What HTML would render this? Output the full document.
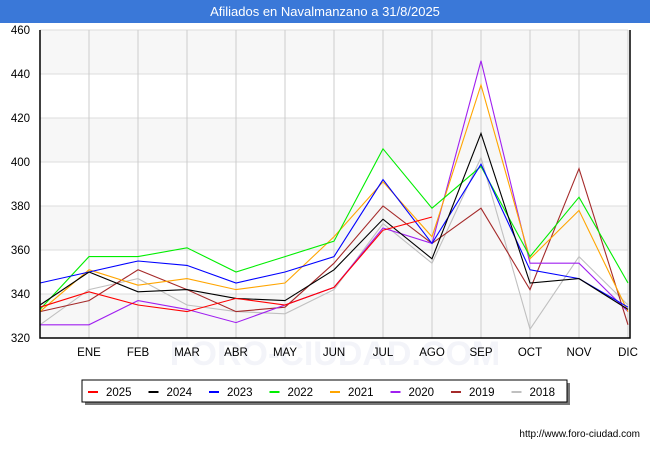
<!DOCTYPE html>
<html><head><meta charset="utf-8"><style>
body{margin:0;width:650px;height:450px;background:#fff;font-family:"Liberation Sans","DejaVu Sans",sans-serif;overflow:hidden}
</style></head><body>
<svg width="650" height="450" id="c" xmlns="http://www.w3.org/2000/svg">
<rect x="0" y="0" width="650" height="23" fill="#3a78d8"/>
<text x="325" y="16" text-anchor="middle" fill="#fff" font-size="13">Afiliados en Navalmanzano a 31/8/2025</text>
<g id="plot"></g>
<text x="640" y="437" text-anchor="end" font-size="10" fill="#000">http://www.foro-ciudad.com</text>
</svg>
<script>
const months=["","ENE","FEB","MAR","ABR","MAY","JUN","JUL","AGO","SEP","OCT","NOV","DIC"];
const yTicks=[320,340,360,380,400,420,440,460];
const seriesNames=["2025","2024","2023","2022","2021","2020","2019","2018"];
const seriesColors=["#ff0000","#000000","#0000ff","#00ee00","#ffa500","#a020f0","#a52a2a","#c0c0c0"];
const s2025=[334,341,335,332,338,335,343,369,375];
const s2024=[335,350,341,342,338,337,351,374,356,413,345,347,333];
const s2023=[345,350,355,353,345,350,357,392,363,399,351,347,334];
const s2022=[333,357,357,361,350,357,364,406,379,398,357,384,345];
const s2021=[332,351,344,347,342,345,366,391,366,435,356,378,332];
const s2020=[326,326,337,333,327,335,343,370,363,446,354,354,332];
const s2019=[332,337,351,342,332,334,354,380,363,379,342,397,326];
const s2018=[326,342,347,335,332,331,342,372,354,402,324,357,335];
const allSeries=[s2025,s2024,s2023,s2022,s2021,s2020,s2019,s2018];
const NS="http://www.w3.org/2000/svg";
const L=40,R=628,T=30,B=338;
const x=i=>L+i*(R-L)/12;
const y=v=>B-(v-320)*(B-T)/140;
const g=document.getElementById('plot');
function mk(t,a){const e=document.createElementNS(NS,t);for(const k in a)e.setAttribute(k,a[k]);return e;}
for(let i=0;i<yTicks.length-1;i++){
  if(i%2==0){const r=mk('rect',{x:L,y:y(yTicks[i+1]),width:R-L,height:y(yTicks[i])-y(yTicks[i+1]),fill:'#f7f7f7'});
  
  g.appendChild(r);}
}
const wm=mk('text',{x:335,y:365,'text-anchor':'middle','font-size':'34',fill:'#f3f4f9','font-weight':'bold'});wm.textContent='FORO-CIUDAD.COM';

g.appendChild(wm);
yTicks.forEach(v=>{
  const l=mk('line',{x1:L,x2:R,y1:y(v),y2:y(v),stroke:'#dddddd'});
  
  g.appendChild(l);
  const t=mk('text',{x:L-10,y:y(v)+4,'text-anchor':'end','font-size':'11.5',fill:'#000'});t.textContent=v;
  
  g.appendChild(t);
});
months.forEach((m,i)=>{
  if(i==0)return;
  const l=mk('line',{x1:x(i),x2:x(i),y1:T,y2:B,stroke:'#cccccc'});
  
  g.appendChild(l);
  const t=mk('text',{x:x(i),y:B+18,'text-anchor':'middle','font-size':'11.5',fill:'#000'});t.textContent=m;
  
  g.appendChild(t);
});
for(let s=allSeries.length-1;s>=0;s--){
  const pts=allSeries[s].map((v,i)=>x(i)+','+y(v)).join(' ');
  const p=mk('polyline',{points:pts,fill:'none',stroke:seriesColors[s],'stroke-width':'1.1'});
  
  g.appendChild(p);
}
const ax=mk('polyline',{points:`${L},${T} ${L},${B} ${R+2},${B} ${R+2},${T}`,fill:'none',stroke:'#000','stroke-width':'1.5'});

g.appendChild(ax);
const sh=mk('rect',{x:85,y:383,width:485,height:22,fill:'#777'});

g.appendChild(sh);
const lb=mk('rect',{x:82,y:380,width:485,height:22,fill:'#fff',stroke:'#000'});

g.appendChild(lb);
seriesNames.forEach((n,i)=>{
  const lx=88+i*60.5;
  const l=mk('line',{x1:lx,x2:lx+10,y1:392,y2:392,stroke:seriesColors[i],'stroke-width':'2'});
  
  g.appendChild(l);
  const t=mk('text',{x:lx+18,y:396,'font-size':'11.5',fill:'#000'});t.textContent=n;
  
  g.appendChild(t);
});
</script>
</body></html>
